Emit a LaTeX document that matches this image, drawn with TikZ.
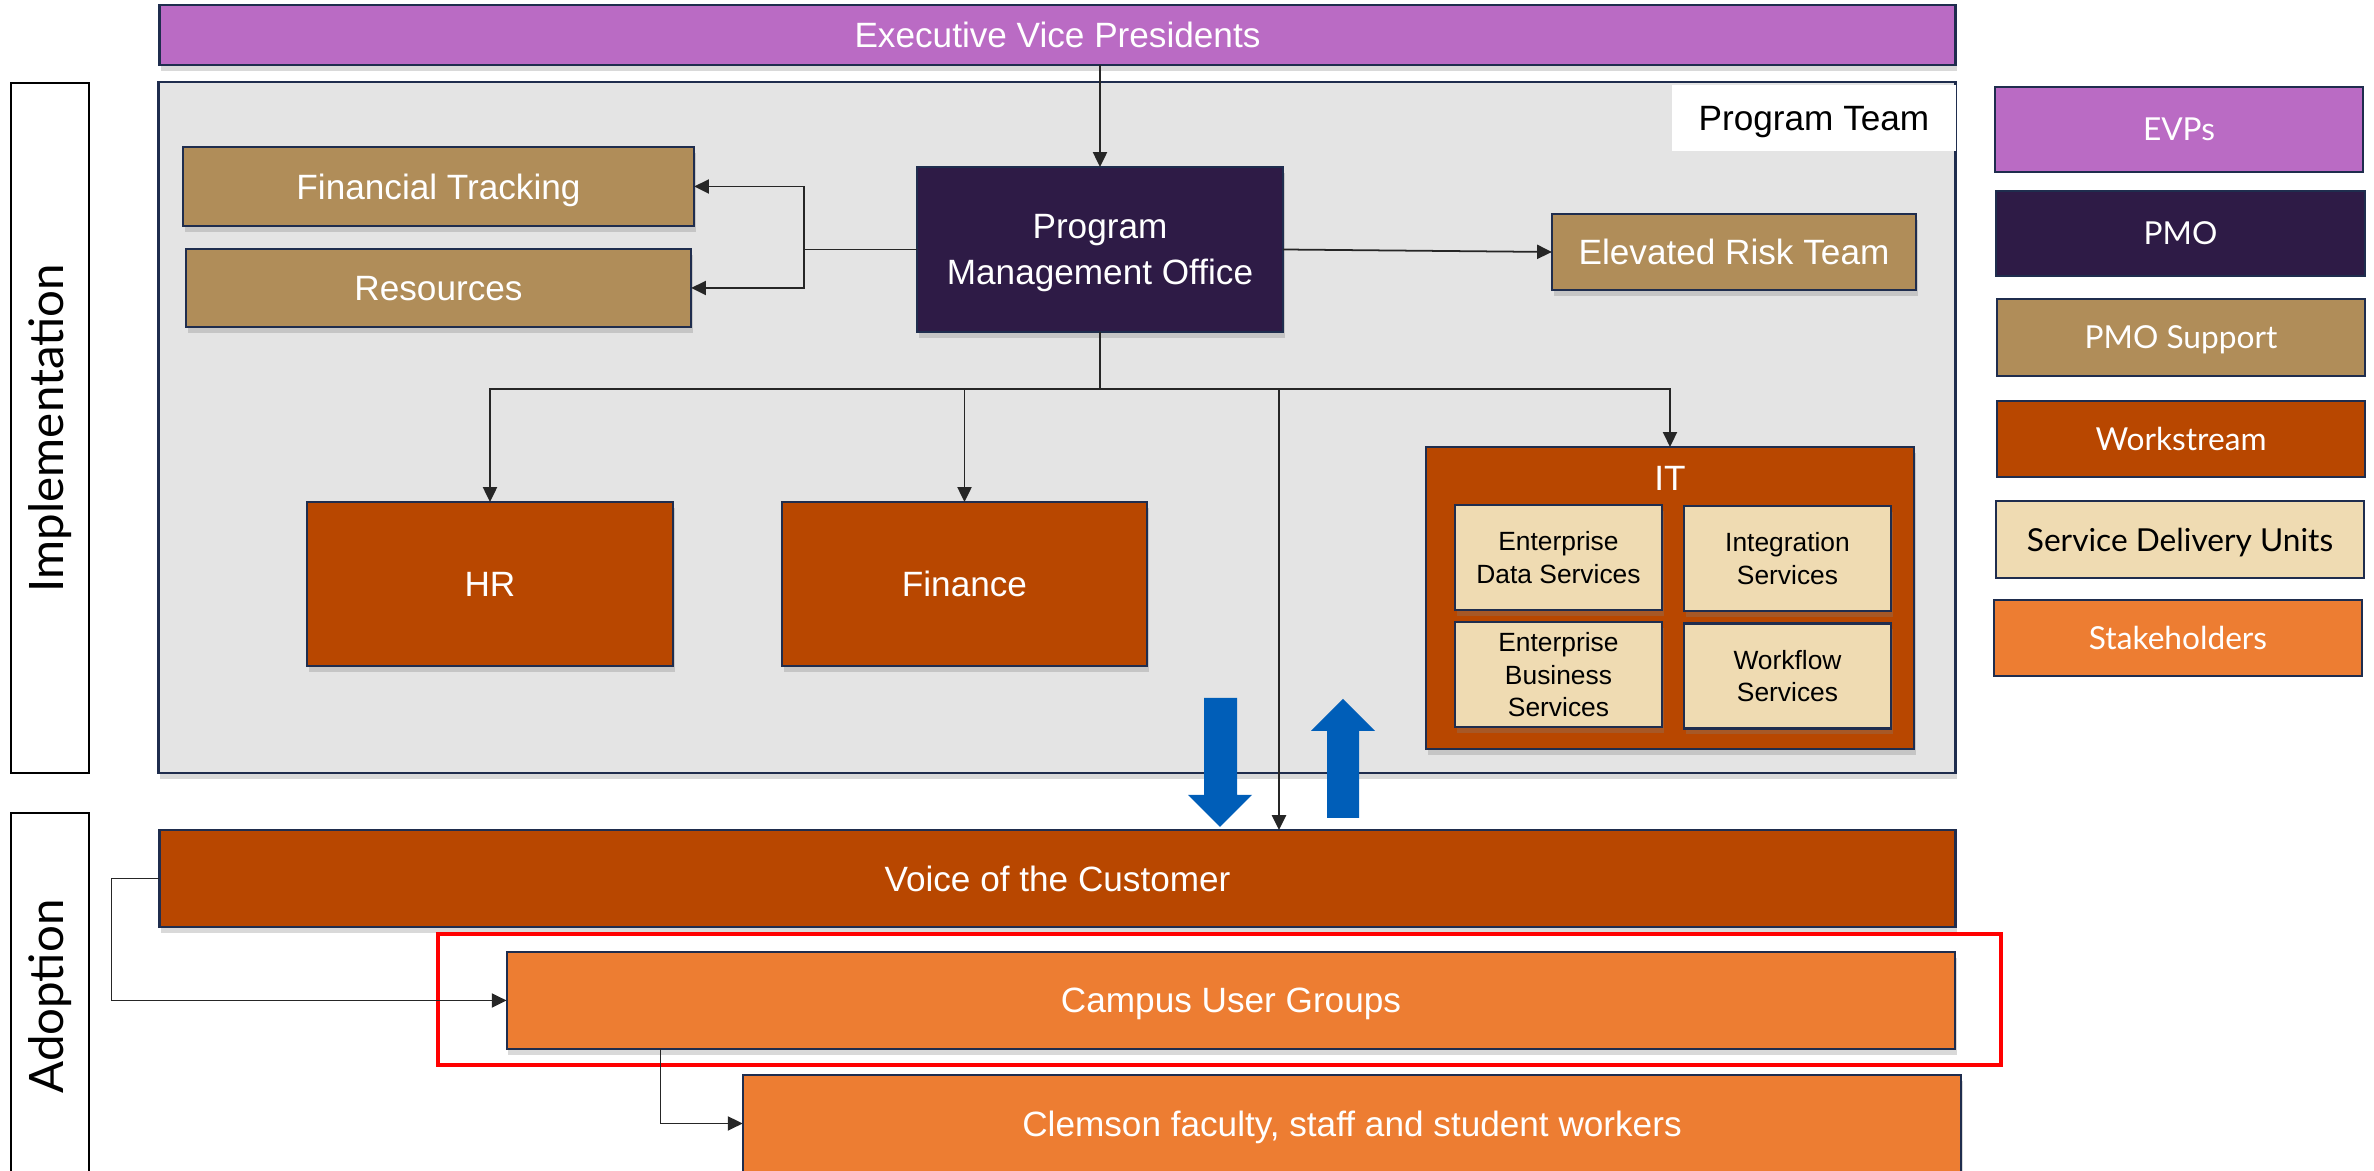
\documentclass[tikz,border=0pt]{standalone}
\usepackage{fontspec}
\setmainfont{Liberation Sans}
\newfontfamily\legfont{Lato}
\usetikzlibrary{arrows.meta, shadows, positioning}
\definecolor{evpcol}{RGB}{186,107,196}
\definecolor{pmocol}{RGB}{46,27,70}
\definecolor{supcol}{RGB}{176,141,89}
\definecolor{wscol}{RGB}{184,71,0}
\definecolor{sducol}{RGB}{239,219,178}
\definecolor{stkcol}{RGB}{237,125,50}
\definecolor{teamgray}{RGB}{228,228,228}
\definecolor{edgecol}{RGB}{31,45,78}
\definecolor{flowblue}{RGB}{0,94,184}
\newcommand{\mainsz}{\fontsize{10}{13}\selectfont}
\newcommand{\smallsz}{\fontsize{7.5}{9.2}\selectfont}

\begin{document}
\begin{tikzpicture}[x=0.01cm, y=-0.01cm,
    box/.style={draw=edgecol, line width=0.6pt, inner sep=2pt, outer sep=0pt,
                align=center, text=white, font=\mainsz, text depth=0pt},
    shade/.style={drop shadow={shadow xshift=0.5pt, shadow yshift=-1.6pt, opacity=0.3}},
    unitbox/.style={box, shade, fill=sducol, text=black, font=\smallsz,
                    minimum width=2.07cm, minimum height=1.05cm},
    legbox/.style={box, font=\legfont\fontsize{9}{11}\selectfont, minimum width=3.68cm},
    sidebox/.style={draw=black, line width=0.6pt, fill=white, rotate=90,
                    font=\legfont\fontsize{13.5}{15}\selectfont, minimum height=0.78cm},
    conn/.style={draw=black!85, line width=0.5pt},
    tip/.style={-{Triangle[length=4.2pt, width=4pt]}}]
\useasboundingbox (0,0) rectangle (2374,1171);
%implementation
                \node[box, shade, fill=teamgray, minimum width=17.96cm, minimum height=6.91cm] (team) at (1057,427.5) {};
                \node[fill=white, text=black, font=\mainsz, inner sep=0pt, text depth=0pt,
                      minimum width=2.84cm, minimum height=0.66cm] (teamlbl) at (1814,118) {Program Team};
                \node[box, shade, fill=evpcol, minimum width=17.95cm, minimum height=0.6cm] (evp) at (1057.5,35) {Executive Vice Presidents};
                \node[sidebox, minimum width=6.9cm] (impl) at (50,428) {Implementation};
                \node[sidebox, minimum width=3.67cm] (adopt) at (50,996.5) {Adoption};

                \node[box, shade, fill=pmocol, minimum width=3.66cm, minimum height=1.65cm] (pmo) at (1100,249.5) {Program\\Management Office};
                \node[box, shade, fill=supcol, minimum width=5.11cm, minimum height=0.79cm] (fin) at (438.5,186.5) {Financial Tracking};
                \node[box, shade, fill=supcol, minimum width=5.05cm, minimum height=0.78cm] (res) at (438.5,288) {Resources};
                \node[box, shade, fill=supcol, minimum width=3.64cm, minimum height=0.76cm] (ert) at (1734,252) {Elevated Risk Team};

                \node[box, shade, fill=wscol, minimum width=3.66cm, minimum height=1.64cm] (hr) at (490,584) {HR};
                \node[box, shade, fill=wscol, minimum width=3.65cm, minimum height=1.64cm] (finance) at (964.5,584) {Finance};
                \node[box, shade, fill=wscol, minimum width=4.88cm, minimum height=3.02cm] (it) at (1670,598) {};
                \node[text=white, font=\mainsz, inner sep=2pt, below=0.115cm of it.north] (itlbl) {IT};
                \node[unitbox] (eds) at (1558.5,557.5) {Enterprise\\Data Services};
                \node[unitbox] (ints) at (1787.5,558.5) {Integration\\Services};
                \node[unitbox] (ebs) at (1558.5,674.5) {Enterprise\\Business\\Services};
                \node[unitbox] (wfs) at (1787.5,676) {Workflow\\Services};

%adoption
                \node[box, shade, fill=wscol, minimum width=17.95cm, minimum height=0.97cm] (voc) at (1057.5,878.5) {Voice of the Customer};
                \draw[red, line width=1.3pt] (438,934) rectangle (2001,1065);
                \node[box, shade, fill=stkcol, minimum width=14.48cm, minimum height=0.97cm] (cug) at (1231,1000.5) {Campus User Groups};
                \node[box, shade, fill=stkcol, minimum width=12.18cm, minimum height=0.97cm] (clem) at (1352,1123.5) {Clemson faculty, staff and student workers};

%legend
                \node[legbox, fill=evpcol, minimum height=0.85cm] (lgevp) at (2179,129.5) {EVPs};
                \node[legbox, fill=pmocol, minimum height=0.85cm] (lgpmo) at (2180.5,233.5) {PMO};
                \node[legbox, fill=supcol, minimum height=0.77cm] (lgsup) at (2181,337.5) {PMO Support};
                \node[legbox, fill=wscol, minimum height=0.76cm] (lgws) at (2181,439) {Workstream};
                \node[legbox, fill=sducol, text=black, minimum height=0.77cm] (lgsdu) at (2180,539.5) {Service Delivery Units};
                \node[legbox, fill=stkcol, minimum height=0.76cm] (lgstk) at (2178,638) {Stakeholders};

%connectors
                \coordinate (lsplit) at (804,249.5);
                \coordinate (bus) at (1100,389);
                \coordinate (vocin) at (1279,830);
                \draw[conn, tip] (pmo |- evp.south) -- (pmo.north);
                \draw[conn] (pmo.west) -- (lsplit);
                \draw[conn, tip] (lsplit) |- (fin.east);
                \draw[conn, tip] (lsplit) |- (res.east);
                \draw[conn, tip] (pmo.east) -- (ert.west);
                \draw[conn] (pmo.south) -- (bus);
                \draw[conn, tip] (bus) -| (hr.north);
                \draw[conn, tip] (bus) -| (finance.north);
                \draw[conn, tip] (bus) -| (it.north);
                \draw[conn, tip] (bus) -| (vocin);
                \draw[conn, tip] (voc.west) -- ++(-48,0) |- (cug.west);
                \draw[conn, tip] (cug.south west) ++(154,0) |- (clem.west);

%flow arrows
                \fill[flowblue] (1204,698) -- (1237,698) -- (1237,795) -- (1252,795) -- (1220,827)
                      -- (1188,795) -- (1204,795) -- cycle;
                \fill[flowblue] (1327,818) -- (1359,818) -- (1359,731) -- (1375,731) -- (1343,699)
                      -- (1311,731) -- (1327,731) -- cycle;
\end{tikzpicture}
\end{document}
